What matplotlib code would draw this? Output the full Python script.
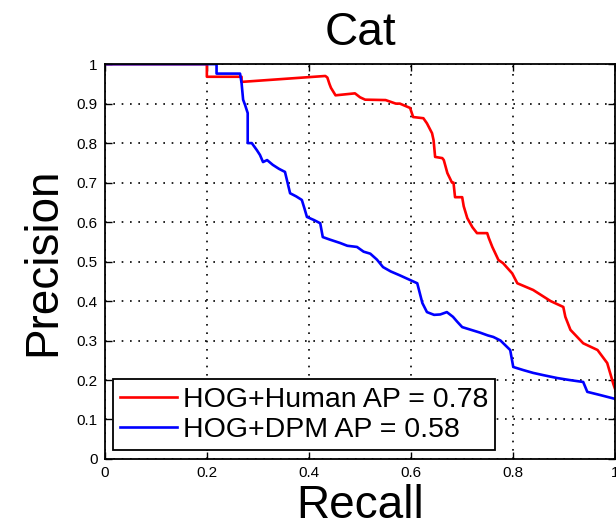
import matplotlib
matplotlib.use("Agg")
import matplotlib.pyplot as plt
from matplotlib.ticker import FixedLocator, FixedFormatter

# precision / recall curves
human_recall = [0, 0.2, 0.2, 0.268, 0.268, 0.432, 0.436, 0.440, 0.443, 0.452, 0.49, 0.50, 0.51,
                0.55, 0.57, 0.578, 0.598, 0.604, 0.624, 0.631, 0.641, 0.644, 0.647, 0.661,
                0.664, 0.671, 0.680, 0.683, 0.686, 0.70, 0.703, 0.71, 0.72, 0.729, 0.749,
                0.752, 0.759, 0.771, 0.78, 0.798, 0.808, 0.839, 0.873, 0.898, 0.902, 0.912,
                0.937, 0.965, 0.984, 0.996, 1.0]
human_precision = [1, 1, 0.968, 0.968, 0.955, 0.970, 0.966, 0.95, 0.94, 0.921, 0.926, 0.916,
                   0.91, 0.909, 0.90, 0.9, 0.889, 0.866, 0.863, 0.85, 0.825, 0.807, 0.765,
                   0.762, 0.757, 0.724, 0.70, 0.70, 0.663, 0.663, 0.64, 0.61, 0.587, 0.572,
                   0.572, 0.56, 0.537, 0.504, 0.496, 0.47, 0.445, 0.428, 0.40, 0.385, 0.36,
                   0.327, 0.293, 0.276, 0.243, 0.19, 0.175]

dpm_recall = [0, 0.219, 0.219, 0.265, 0.268, 0.271, 0.275, 0.280, 0.280, 0.288, 0.298, 0.304,
              0.310, 0.318, 0.329, 0.341, 0.353, 0.358, 0.363, 0.375, 0.386, 0.391, 0.396,
              0.41, 0.422, 0.427, 0.44, 0.461, 0.475, 0.494, 0.507, 0.520, 0.533, 0.545,
              0.56, 0.578, 0.595, 0.612, 0.616, 0.622, 0.631, 0.645, 0.657, 0.67, 0.682,
              0.69, 0.70, 0.710, 0.72, 0.735, 0.75, 0.761, 0.775, 0.794, 0.8, 0.82, 0.839,
              0.86, 0.886, 0.91, 0.937, 0.945, 0.97, 1.0]
dpm_precision = [1, 1, 0.976, 0.976, 0.952, 0.91, 0.896, 0.876, 0.8, 0.8, 0.782, 0.77,
                 0.752, 0.757, 0.745, 0.735, 0.727, 0.70, 0.673, 0.665, 0.656, 0.635, 0.613,
                 0.605, 0.597, 0.562, 0.556, 0.547, 0.54, 0.537, 0.525, 0.52, 0.505, 0.486,
                 0.475, 0.465, 0.455, 0.445, 0.425, 0.395, 0.372, 0.365, 0.366, 0.372, 0.36,
                 0.348, 0.334, 0.33, 0.326, 0.32, 0.313, 0.309, 0.30, 0.276, 0.233, 0.225,
                 0.218, 0.212, 0.205, 0.2, 0.195, 0.17, 0.162, 0.152]

legend_labels = ["HOG+Human AP = 0.78", "HOG+DPM AP = 0.58"]
x_ticks = [0, 0.2, 0.4, 0.6, 0.8, 1]
x_tick_labels = ["0", "0.2", "0.4", "0.6", "0.8", "1"]
y_ticks = [0, 0.1, 0.2, 0.3, 0.4, 0.5, 0.6, 0.7, 0.8, 0.9, 1]
y_tick_labels = ["0", "0.1", "0.2", "0.3", "0.4", "0.5", "0.6", "0.7", "0.8", "0.9", "1"]

plt.rcParams["font.family"] = ["Liberation Sans", "DejaVu Sans"]

fig = plt.figure(figsize=(6.16, 5.30), dpi=100)
ax = fig.add_axes([0.170, 0.134, 0.829, 0.745])

ax.plot(human_recall, human_precision, color="#ff0000", lw=1.9, label=legend_labels[0])
ax.plot(dpm_recall, dpm_precision, color="#0000ff", lw=1.9, label=legend_labels[1])

ax.set_xlim(0, 1)
ax.set_ylim(0, 1)
ax.xaxis.set_major_locator(FixedLocator(x_ticks))
ax.xaxis.set_major_formatter(FixedFormatter(x_tick_labels))
ax.yaxis.set_major_locator(FixedLocator(y_ticks))
ax.yaxis.set_major_formatter(FixedFormatter(y_tick_labels))
ax.tick_params(direction="in", length=5, width=1, top=True, right=True,
               labelsize=11, pad=5)

ax.grid(True, color="black", linestyle=(0, (1, 4)), lw=1.2)
for s in ax.spines.values():
    s.set_linewidth(1.3)

ax.set_title("Cat", fontsize=33, pad=14)
ax.set_xlabel("Recall", fontsize=33, labelpad=3)
ax.set_ylabel("Precision", fontsize=33, labelpad=8)

leg = ax.legend(loc="lower left", bbox_to_anchor=(0.016, 0.023), borderaxespad=0,
                fontsize=20.5, handlelength=2.0, handletextpad=0.2, labelspacing=0.15,
                borderpad=0.25, fancybox=False, framealpha=1, edgecolor="black")
leg.get_frame().set_linewidth(1.3)

fig.savefig("out.png", dpi=100)
